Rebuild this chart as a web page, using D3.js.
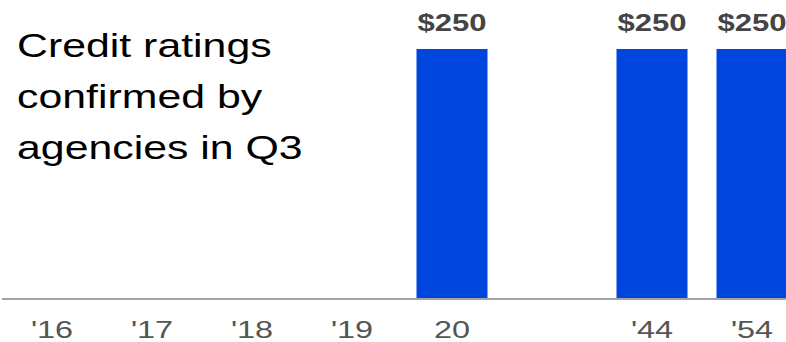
<!DOCTYPE html>
<html>
<head>
<meta charset="utf-8">
<script src="https://cdn.jsdelivr.net/npm/d3@7"></script>
<style>
  html, body { margin: 0; padding: 0; background: #fff; }
  svg { display: block; }
</style>
</head>
<body>
<svg id="chart" width="786" height="342"></svg>
<script>
const categories = ["'16", "'17", "'18", "'19", "20", "gap", "'44", "'54"];
const tickLabels = ["'16", "'17", "'18", "'19", "20", "", "'44", "'54"];
const values = [0, 0, 0, 0, 250, 0, 250, 250];
const valueLabels = ["", "", "", "", "$250", "", "$250", "$250"];
const titleLines = ["Credit ratings", "confirmed by", "agencies in Q3"];

const W = 786, H = 342;
const baseY = 298;
const stretch = 1.35;

const svg = d3.select("#chart");

const x = d3.scaleBand().domain(categories).range([2, 802]).paddingInner(0.29).paddingOuter(0.145);
const y = d3.scaleLinear().domain([0, 250]).range([baseY, 49]);

const data = categories.map((c, i) => ({ c, v: values[i], label: valueLabels[i], tick: tickLabels[i] }));

// bars
svg.append("g").selectAll("rect")
  .data(data.filter(d => d.v > 0))
  .join("rect")
  .attr("x", d => x(d.c))
  .attr("y", d => y(d.v))
  .attr("width", x.bandwidth())
  .attr("height", d => y(0) - y(d.v))
  .attr("fill", "#0046de");

// axis
const axis = d3.axisBottom(x).tickSize(0).tickPadding(0).tickFormat((d, i) => tickLabels[i]);
const gAxis = svg.append("g").attr("transform", `translate(0,${baseY + 1})`).call(axis);
gAxis.select(".domain").remove();
gAxis.append("line").attr("x1", 2).attr("x2", W).attr("y1", 0).attr("y2", 0)
  .attr("stroke", "#a3a3a3").attr("stroke-width", 2);
gAxis.selectAll(".tick text")
  .attr("font-family", "Liberation Sans, Arial, sans-serif")
  .attr("font-size", 24)
  .attr("fill", "#555")
  .attr("dy", null)
  .attr("y", 0)
  .attr("transform", `translate(0,39) scale(${stretch},1)`);

// value labels
svg.append("g").selectAll("text")
  .data(data.filter(d => d.label))
  .join("text")
  .attr("transform", d => `translate(${x(d.c) + x.bandwidth() / 2},${y(d.v) - 18}) scale(${stretch},1)`)
  .attr("text-anchor", "middle")
  .attr("font-family", "Liberation Sans, Arial, sans-serif")
  .attr("font-weight", "bold")
  .attr("font-size", 23)
  .attr("fill", "#444")
  .text(d => d.label);

// title
svg.append("g").selectAll("text")
  .data(titleLines)
  .join("text")
  .attr("transform", (d, i) => `translate(17,${57 + i * 51}) scale(1.26,1)`)
  .attr("font-family", "Liberation Sans, Arial, sans-serif")
  .attr("font-size", 34)
  .attr("fill", "#000")
  .text(d => d);
</script>
</body>
</html>
